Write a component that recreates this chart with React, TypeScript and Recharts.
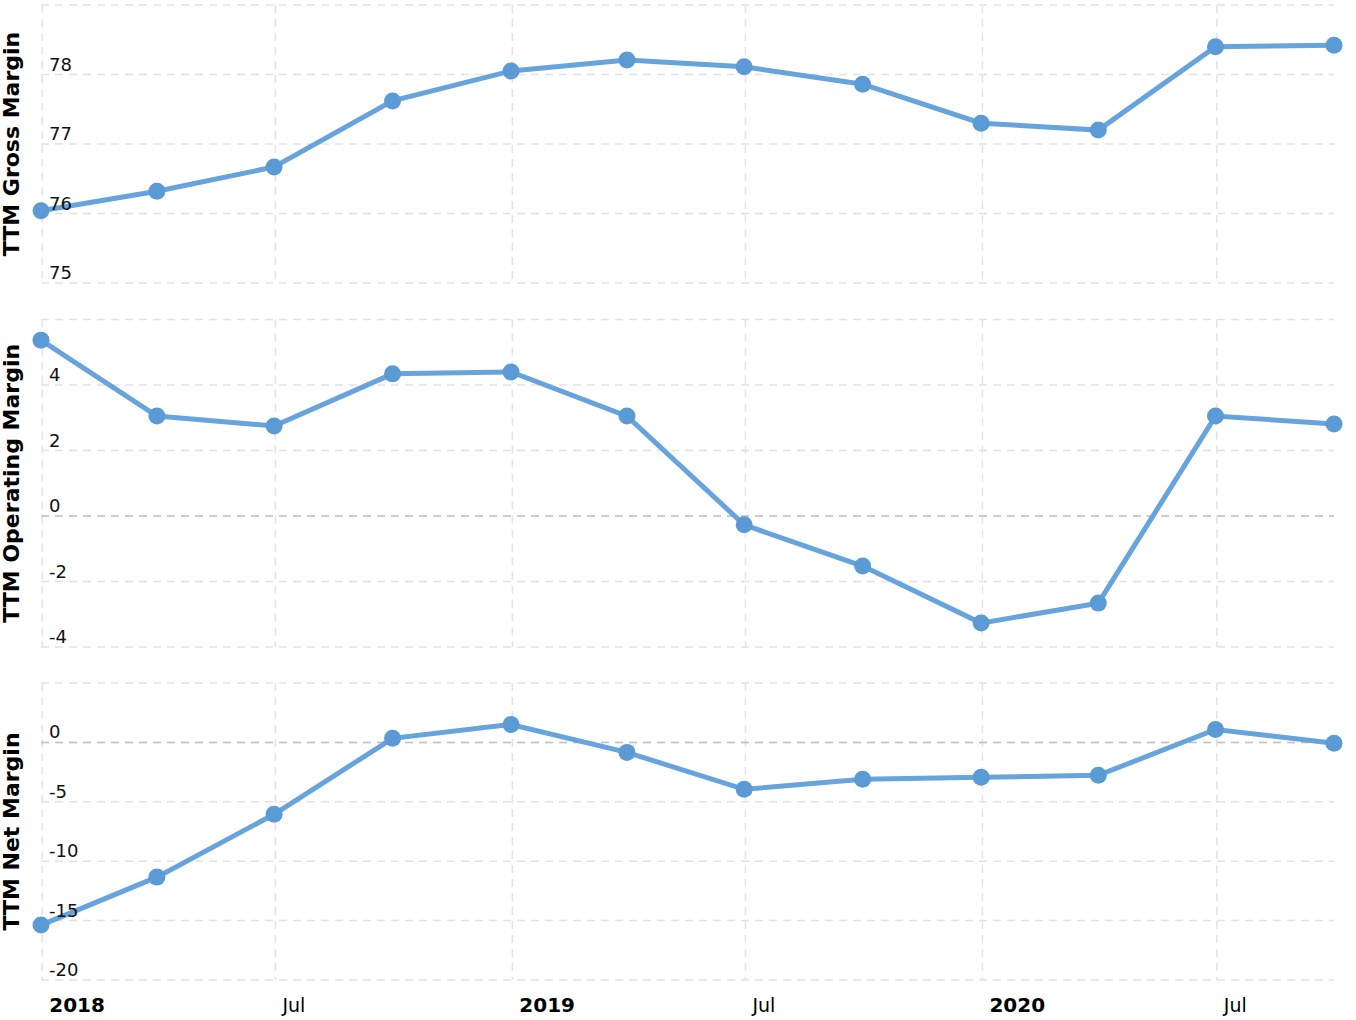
import React from 'react';
import { LineChart, Line, XAxis, YAxis, CartesianGrid, ReferenceLine } from 'recharts';

const dates = [
  Date.UTC(2017, 11, 31), Date.UTC(2018, 2, 31), Date.UTC(2018, 5, 30), Date.UTC(2018, 8, 30),
  Date.UTC(2018, 11, 31), Date.UTC(2019, 2, 31), Date.UTC(2019, 5, 30), Date.UTC(2019, 8, 30),
  Date.UTC(2019, 11, 31), Date.UTC(2020, 2, 31), Date.UTC(2020, 5, 30), Date.UTC(2020, 8, 30),
];
const grossMargin = [76.04, 76.32, 76.67, 77.62, 78.05, 78.21, 78.11, 77.86, 77.30, 77.20, 78.40, 78.42];
const operatingMargin = [5.37, 3.05, 2.75, 4.34, 4.40, 3.05, -0.27, -1.53, -3.27, -2.66, 3.05, 2.81];
const netMargin = [-15.38, -11.34, -6.05, 0.34, 1.51, -0.84, -3.95, -3.11, -2.94, -2.77, 1.09, -0.08];

const xTicks = [
  Date.UTC(2018, 0, 1), Date.UTC(2018, 6, 1), Date.UTC(2019, 0, 1),
  Date.UTC(2019, 6, 1), Date.UTC(2020, 0, 1), Date.UTC(2020, 6, 1),
];
const xTickLabels = ['2018', 'Jul', '2019', 'Jul', '2020', 'Jul'];

const grossTicks = [75, 76, 77, 78, 79];
const operatingTicks = [-4, -2, 0, 2, 4, 6];
const netTicks = [-20, -15, -10, -5, 0, 5];

const grossData = dates.map((d, i) => ({ date: d, value: grossMargin[i] }));
const operatingData = dates.map((d, i) => ({ date: d, value: operatingMargin[i] }));
const netData = dates.map((d, i) => ({ date: d, value: netMargin[i] }));

const FONT = '"DejaVu Sans", Verdana, sans-serif';
const LINE = '#67a3dc';
const DOT = '#5b9bd5';
const GRID = '#e3e3e3';

const applyScale = (axis: any, v: number) => {
  const s = axis?.scale;
  if (!s) return 0;
  if (typeof s === 'function') return s(v);
  if (typeof s.map === 'function') return s.map(v);
  return 0;
};

const makeYTick = (hide: number) => (props: any) => {
  const { y, payload } = props;
  if (payload.value === hide) return <g />;
  return (
    <text x={49} y={y - 4} fontSize={18} fontFamily={FONT} fill="#111" textAnchor="start">
      {payload.value}
    </text>
  );
};

const makeLabel = (title: string) => (props: any) => {
  const vb = props.viewBox || {};
  const cy = (vb.y ?? 0) + (vb.height ?? 0) / 2;
  return (
    <text
      x={19}
      y={cy}
      transform={`rotate(-90, 19, ${cy})`}
      textAnchor="middle"
      fontSize={22}
      fontWeight="bold"
      fontFamily={FONT}
      fill="#000"
    >
      {title}
    </text>
  );
};

const XTick = (props: any) => {
  const { x, index } = props;
  const label = xTickLabels[index] ?? '';
  const isYear = label !== 'Jul';
  return (
    <text
      x={x + 7}
      y={352}
      fontSize={isYear ? 20 : 19}
      fontWeight={isYear ? 'bold' : 'normal'}
      fontFamily={FONT}
      fill="#000"
      textAnchor="start"
    >
      {label}
    </text>
  );
};

const EmptyTick = () => <g />;

type PanelProps = {
  data: any[];
  ticks: number[];
  domain: [number, number];
  title: string;
  height: number;
  top: number;
  marginTop: number;
  marginBottom: number;
  showX?: boolean;
  zeroLine?: boolean;
};

const Panel = ({ data, ticks, domain, title, height, top, marginTop, marginBottom, showX, zeroLine }: PanelProps) => (
  <div style={{ position: 'absolute', left: 0, top }}>
    <LineChart
      width={1356}
      height={height}
      data={data}
      margin={{ top: marginTop, right: 22, bottom: marginBottom, left: 0 }}
    >
      <CartesianGrid
        stroke={GRID}
        strokeDasharray="8 6"
        strokeWidth={1.5}
        verticalCoordinatesGenerator={(p: any) => xTicks.map((t) => applyScale(p.xAxis, t))}
        horizontalCoordinatesGenerator={(p: any) => ticks.map((t) => applyScale(p.yAxis, t))}
      />
      <XAxis
        dataKey="date"
        type="number"
        scale="time"
        domain={['dataMin', 'dataMax']}
        ticks={xTicks}
        axisLine={false}
        tickLine={false}
        height={showX ? 40 : 1}
        tick={showX ? <XTick /> : <EmptyTick />}
        interval={0}
      />
      <YAxis
        type="number"
        domain={domain}
        ticks={ticks}
        width={41}
        axisLine={false}
        tickLine={false}
        tick={makeYTick(ticks[ticks.length - 1])}
        interval={0}
        allowDataOverflow
        label={{ content: makeLabel(title) }}
      />
      {zeroLine && <ReferenceLine y={0} stroke="#c2c2c2" strokeDasharray="8 6" strokeWidth={1.5} />}
      <Line
        type="linear"
        dataKey="value"
        stroke={LINE}
        strokeWidth={5}
        dot={{ r: 8.5, fill: DOT, stroke: DOT, strokeWidth: 0 }}
        activeDot={false}
        isAnimationActive={false}
      />
    </LineChart>
  </div>
);

export default function App() {
  return (
    <div style={{ position: 'absolute', left: 0, top: 0, width: 1356, height: 1020, background: '#fff' }}>
      <Panel data={grossData} ticks={grossTicks} domain={[75, 79]} title="TTM Gross Margin"
        height={290} top={0} marginTop={5} marginBottom={6} />
      <Panel data={operatingData} ticks={operatingTicks} domain={[-4, 6]} title="TTM Operating Margin"
        height={360} top={300} marginTop={19.5} marginBottom={12} zeroLine />
      <Panel data={netData} ticks={netTicks} domain={[-20, 5]} title="TTM Net Margin"
        height={360} top={660} marginTop={23} marginBottom={0} showX zeroLine />
    </div>
  );
}
